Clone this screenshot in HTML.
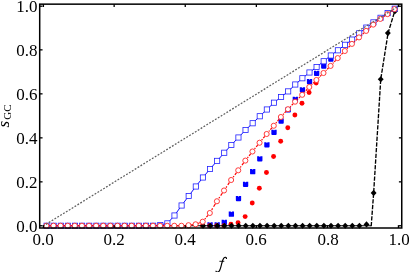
<!DOCTYPE html>
<html><head><meta charset="utf-8"><title>s_GC vs f</title>
<style>
html,body{margin:0;padding:0;background:#fff;}
div{will-change:transform;}
body{width:409px;height:272px;overflow:hidden;position:relative;font-family:"Liberation Serif",serif;color:#000;}
svg{position:absolute;left:0;top:0;}
.xl{position:absolute;top:230.3px;width:40px;text-align:center;font-size:17px;line-height:20px;white-space:nowrap;}
.yl{position:absolute;left:0;width:37.6px;text-align:right;font-size:17px;line-height:20px;white-space:nowrap;}
.sl{position:absolute;left:-36.1px;top:105.6px;width:80px;height:20px;text-align:center;font-size:17px;line-height:20px;transform:rotate(-90deg);transform-origin:50% 50%;white-space:nowrap;}
.sl i{font-style:italic;}
.sl span{font-size:11px;position:relative;top:2.3px;margin-left:1.3px;}
</style></head><body>
<svg width="409" height="272" viewBox="0 0 409 272">
<path d="M207.42,222.35 L209.37,222.35 L210.07,223.15 L210.77,222.35 L212.72,222.35 L212.72,226.75 Q212.72,227.65 211.82,227.65 L208.32,227.65 Q207.42,227.65 207.42,226.75Z" fill="#0000ff"/>
<path d="M214.52,222.35 L216.47,222.35 L217.17,223.15 L217.87,222.35 L219.82,222.35 L219.82,226.75 Q219.82,227.65 218.92,227.65 L215.42,227.65 Q214.52,227.65 214.52,226.75Z" fill="#0000ff"/>
<path d="M221.62,219.65 L223.58,219.65 L224.28,220.45 L224.97,219.65 L226.93,219.65 L226.93,224.05 Q226.93,224.95 226.03,224.95 L222.53,224.95 Q221.62,224.95 221.62,224.05Z" fill="#0000ff"/>
<path d="M228.73,211.55 L230.68,211.55 L231.38,212.35 L232.08,211.55 L234.03,211.55 L234.03,215.95 Q234.03,216.85 233.13,216.85 L229.63,216.85 Q228.73,216.85 228.73,215.95Z" fill="#0000ff"/>
<path d="M235.84,195.90 L237.79,195.90 L238.49,196.70 L239.19,195.90 L241.14,195.90 L241.14,200.30 Q241.14,201.20 240.24,201.20 L236.74,201.20 Q235.84,201.20 235.84,200.30Z" fill="#0000ff"/>
<path d="M242.94,181.65 L244.89,181.65 L245.59,182.45 L246.29,181.65 L248.24,181.65 L248.24,186.05 Q248.24,186.95 247.34,186.95 L243.84,186.95 Q242.94,186.95 242.94,186.05Z" fill="#0000ff"/>
<path d="M250.05,169.05 L252.00,169.05 L252.70,169.85 L253.40,169.05 L255.35,169.05 L255.35,173.45 Q255.35,174.35 254.45,174.35 L250.95,174.35 Q250.05,174.35 250.05,173.45Z" fill="#0000ff"/>
<path d="M257.15,156.15 L259.10,156.15 L259.80,156.95 L260.50,156.15 L262.45,156.15 L262.45,160.55 Q262.45,161.45 261.55,161.45 L258.05,161.45 Q257.15,161.45 257.15,160.55Z" fill="#0000ff"/>
<path d="M264.26,142.15 L266.21,142.15 L266.91,142.95 L267.61,142.15 L269.56,142.15 L269.56,146.55 Q269.56,147.45 268.66,147.45 L265.16,147.45 Q264.26,147.45 264.26,146.55Z" fill="#0000ff"/>
<path d="M271.36,129.65 L273.31,129.65 L274.01,130.45 L274.71,129.65 L276.66,129.65 L276.66,134.05 Q276.66,134.95 275.76,134.95 L272.26,134.95 Q271.36,134.95 271.36,134.05Z" fill="#0000ff"/>
<path d="M278.47,118.40 L280.42,118.40 L281.12,119.20 L281.81,118.40 L283.76,118.40 L283.76,122.80 Q283.76,123.70 282.87,123.70 L279.37,123.70 Q278.47,123.70 278.47,122.80Z" fill="#0000ff"/>
<path d="M285.57,107.15 L287.52,107.15 L288.22,107.95 L288.92,107.15 L290.87,107.15 L290.87,111.55 Q290.87,112.45 289.97,112.45 L286.47,112.45 Q285.57,112.45 285.57,111.55Z" fill="#0000ff"/>
<path d="M292.68,96.65 L294.62,96.65 L295.32,97.45 L296.02,96.65 L297.97,96.65 L297.97,101.05 Q297.97,101.95 297.07,101.95 L293.57,101.95 Q292.68,101.95 292.68,101.05Z" fill="#0000ff"/>
<path d="M299.78,87.15 L301.73,87.15 L302.43,87.95 L303.13,87.15 L305.08,87.15 L305.08,91.55 Q305.08,92.45 304.18,92.45 L300.68,92.45 Q299.78,92.45 299.78,91.55Z" fill="#0000ff"/>
<path d="M306.88,78.90 L308.83,78.90 L309.53,79.70 L310.23,78.90 L312.18,78.90 L312.18,83.30 Q312.18,84.20 311.28,84.20 L307.78,84.20 Q306.88,84.20 306.88,83.30Z" fill="#0000ff"/>
<path d="M313.99,70.65 L315.94,70.65 L316.64,71.45 L317.34,70.65 L319.29,70.65 L319.29,75.05 Q319.29,75.95 318.39,75.95 L314.89,75.95 Q313.99,75.95 313.99,75.05Z" fill="#0000ff"/>
<path d="M321.10,63.40 L323.05,63.40 L323.75,64.20 L324.44,63.40 L326.39,63.40 L326.39,67.80 Q326.39,68.70 325.50,68.70 L322.00,68.70 Q321.10,68.70 321.10,67.80Z" fill="#0000ff"/>
<path d="M328.20,56.40 L330.15,56.40 L330.85,57.20 L331.55,56.40 L333.50,56.40 L333.50,60.80 Q333.50,61.70 332.60,61.70 L329.10,61.70 Q328.20,61.70 328.20,60.80Z" fill="#0000ff"/>
<circle cx="202.51" cy="225.75" r="2.45" fill="#ff0000"/>
<circle cx="209.62" cy="225.75" r="2.45" fill="#ff0000"/>
<circle cx="216.72" cy="225.75" r="2.45" fill="#ff0000"/>
<circle cx="223.83" cy="225.75" r="2.45" fill="#ff0000"/>
<circle cx="230.93" cy="224.30" r="2.45" fill="#ff0000"/>
<circle cx="238.04" cy="222.70" r="2.45" fill="#ff0000"/>
<circle cx="245.14" cy="216.60" r="2.45" fill="#ff0000"/>
<circle cx="252.25" cy="203.00" r="2.45" fill="#ff0000"/>
<circle cx="259.35" cy="188.25" r="2.45" fill="#ff0000"/>
<circle cx="266.46" cy="172.50" r="2.45" fill="#ff0000"/>
<circle cx="273.56" cy="156.50" r="2.45" fill="#ff0000"/>
<circle cx="280.67" cy="141.25" r="2.45" fill="#ff0000"/>
<circle cx="287.77" cy="127.75" r="2.45" fill="#ff0000"/>
<circle cx="294.88" cy="115.00" r="2.45" fill="#ff0000"/>
<circle cx="301.98" cy="103.25" r="2.45" fill="#ff0000"/>
<circle cx="309.08" cy="92.50" r="2.45" fill="#ff0000"/>
<circle cx="316.19" cy="83.00" r="2.45" fill="#ff0000"/>
<line x1="46.40" y1="225.75" x2="371.0" y2="225.75" stroke="#000" stroke-width="1.0"/>
<polyline points="371.20,226.25 373.65,192.90 380.75,79.20 388.05,33.10 394.80,11.00 398.50,5.85" fill="none" stroke="#000" stroke-width="1.35" stroke-dasharray="4.3 1.4"/>
<path d="M200.16,225.75 L203.11,222.70 L206.06,225.75 L203.11,228.80Z" fill="#000"/>
<path d="M207.27,225.75 L210.22,222.70 L213.17,225.75 L210.22,228.80Z" fill="#000"/>
<path d="M214.37,225.75 L217.32,222.70 L220.27,225.75 L217.32,228.80Z" fill="#000"/>
<path d="M221.48,225.75 L224.43,222.70 L227.38,225.75 L224.43,228.80Z" fill="#000"/>
<path d="M228.58,225.75 L231.53,222.70 L234.48,225.75 L231.53,228.80Z" fill="#000"/>
<path d="M235.69,225.75 L238.64,222.70 L241.59,225.75 L238.64,228.80Z" fill="#000"/>
<path d="M242.79,225.75 L245.74,222.70 L248.69,225.75 L245.74,228.80Z" fill="#000"/>
<path d="M249.90,225.75 L252.85,222.70 L255.80,225.75 L252.85,228.80Z" fill="#000"/>
<path d="M257.00,225.75 L259.95,222.70 L262.90,225.75 L259.95,228.80Z" fill="#000"/>
<path d="M264.11,225.75 L267.06,222.70 L270.00,225.75 L267.06,228.80Z" fill="#000"/>
<path d="M271.21,225.75 L274.16,222.70 L277.11,225.75 L274.16,228.80Z" fill="#000"/>
<path d="M278.31,225.75 L281.26,222.70 L284.21,225.75 L281.26,228.80Z" fill="#000"/>
<path d="M285.42,225.75 L288.37,222.70 L291.32,225.75 L288.37,228.80Z" fill="#000"/>
<path d="M292.52,225.75 L295.47,222.70 L298.42,225.75 L295.47,228.80Z" fill="#000"/>
<path d="M299.63,225.75 L302.58,222.70 L305.53,225.75 L302.58,228.80Z" fill="#000"/>
<path d="M306.73,225.75 L309.68,222.70 L312.63,225.75 L309.68,228.80Z" fill="#000"/>
<path d="M313.84,225.75 L316.79,222.70 L319.74,225.75 L316.79,228.80Z" fill="#000"/>
<path d="M320.94,225.75 L323.89,222.70 L326.84,225.75 L323.89,228.80Z" fill="#000"/>
<path d="M328.05,225.75 L331.00,222.70 L333.95,225.75 L331.00,228.80Z" fill="#000"/>
<path d="M335.15,225.75 L338.10,222.70 L341.05,225.75 L338.10,228.80Z" fill="#000"/>
<path d="M342.26,225.75 L345.21,222.70 L348.16,225.75 L345.21,228.80Z" fill="#000"/>
<path d="M349.37,225.75 L352.31,222.70 L355.26,225.75 L352.31,228.80Z" fill="#000"/>
<path d="M356.47,225.75 L359.42,222.70 L362.37,225.75 L359.42,228.80Z" fill="#000"/>
<path d="M363.57,224.40 L366.52,221.35 L369.47,224.40 L366.52,227.45Z" fill="#000"/>
<path d="M370.68,192.90 L373.63,189.85 L376.58,192.90 L373.63,195.95Z" fill="#000"/>
<path d="M377.78,79.20 L380.73,76.15 L383.68,79.20 L380.73,82.25Z" fill="#000"/>
<path d="M384.89,33.10 L387.84,30.05 L390.79,33.10 L387.84,36.15Z" fill="#000"/>
<path d="M392.00,11.30 L394.94,8.25 L397.89,11.30 L394.94,14.35Z" fill="#000"/>
<polyline points="46.60,225.75 53.70,225.75 60.81,225.75 67.92,225.75 75.02,225.75 82.13,225.75 89.23,225.75 96.33,225.75 103.44,225.75 110.55,225.75 117.65,225.75 124.76,225.75 131.86,225.75 138.97,225.75 146.07,225.75 153.17,225.75 160.28,225.00 167.38,223.40 174.49,215.50 181.59,205.50 188.70,196.00 195.81,186.50 202.91,177.50 210.02,169.00 217.12,160.90 224.22,152.75 231.33,145.00 238.44,137.50 245.54,130.00 252.65,123.25 259.75,116.25 266.86,109.50 273.96,102.70 281.06,97.00 288.17,91.40 295.27,84.50 302.38,78.25 309.48,72.50 316.59,67.00 323.69,61.25 330.80,55.50 337.90,50.30 345.01,44.80 352.12,39.60 359.22,33.30 366.32,27.60 373.43,22.40 380.53,17.80 387.64,13.10 394.75,8.70" fill="none" stroke="#0000ff" stroke-width="0.95"/>
<rect x="44.00" y="223.15" width="5.2" height="5.2" fill="#fff" stroke="#1c1cff" stroke-width="0.78"/>
<rect x="51.10" y="223.15" width="5.2" height="5.2" fill="#fff" stroke="#1c1cff" stroke-width="0.78"/>
<rect x="58.21" y="223.15" width="5.2" height="5.2" fill="#fff" stroke="#1c1cff" stroke-width="0.78"/>
<rect x="65.32" y="223.15" width="5.2" height="5.2" fill="#fff" stroke="#1c1cff" stroke-width="0.78"/>
<rect x="72.42" y="223.15" width="5.2" height="5.2" fill="#fff" stroke="#1c1cff" stroke-width="0.78"/>
<rect x="79.53" y="223.15" width="5.2" height="5.2" fill="#fff" stroke="#1c1cff" stroke-width="0.78"/>
<rect x="86.63" y="223.15" width="5.2" height="5.2" fill="#fff" stroke="#1c1cff" stroke-width="0.78"/>
<rect x="93.73" y="223.15" width="5.2" height="5.2" fill="#fff" stroke="#1c1cff" stroke-width="0.78"/>
<rect x="100.84" y="223.15" width="5.2" height="5.2" fill="#fff" stroke="#1c1cff" stroke-width="0.78"/>
<rect x="107.95" y="223.15" width="5.2" height="5.2" fill="#fff" stroke="#1c1cff" stroke-width="0.78"/>
<rect x="115.05" y="223.15" width="5.2" height="5.2" fill="#fff" stroke="#1c1cff" stroke-width="0.78"/>
<rect x="122.16" y="223.15" width="5.2" height="5.2" fill="#fff" stroke="#1c1cff" stroke-width="0.78"/>
<rect x="129.26" y="223.15" width="5.2" height="5.2" fill="#fff" stroke="#1c1cff" stroke-width="0.78"/>
<rect x="136.37" y="223.15" width="5.2" height="5.2" fill="#fff" stroke="#1c1cff" stroke-width="0.78"/>
<rect x="143.47" y="223.15" width="5.2" height="5.2" fill="#fff" stroke="#1c1cff" stroke-width="0.78"/>
<rect x="150.57" y="223.15" width="5.2" height="5.2" fill="#fff" stroke="#1c1cff" stroke-width="0.78"/>
<rect x="157.68" y="222.40" width="5.2" height="5.2" fill="#fff" stroke="#1c1cff" stroke-width="0.78"/>
<rect x="164.78" y="220.80" width="5.2" height="5.2" fill="#fff" stroke="#1c1cff" stroke-width="0.78"/>
<rect x="171.89" y="212.90" width="5.2" height="5.2" fill="#fff" stroke="#1c1cff" stroke-width="0.78"/>
<rect x="179.00" y="202.90" width="5.2" height="5.2" fill="#fff" stroke="#1c1cff" stroke-width="0.78"/>
<rect x="186.10" y="193.40" width="5.2" height="5.2" fill="#fff" stroke="#1c1cff" stroke-width="0.78"/>
<rect x="193.21" y="183.90" width="5.2" height="5.2" fill="#fff" stroke="#1c1cff" stroke-width="0.78"/>
<rect x="200.31" y="174.90" width="5.2" height="5.2" fill="#fff" stroke="#1c1cff" stroke-width="0.78"/>
<rect x="207.42" y="166.40" width="5.2" height="5.2" fill="#fff" stroke="#1c1cff" stroke-width="0.78"/>
<rect x="214.52" y="158.30" width="5.2" height="5.2" fill="#fff" stroke="#1c1cff" stroke-width="0.78"/>
<rect x="221.62" y="150.15" width="5.2" height="5.2" fill="#fff" stroke="#1c1cff" stroke-width="0.78"/>
<rect x="228.73" y="142.40" width="5.2" height="5.2" fill="#fff" stroke="#1c1cff" stroke-width="0.78"/>
<rect x="235.84" y="134.90" width="5.2" height="5.2" fill="#fff" stroke="#1c1cff" stroke-width="0.78"/>
<rect x="242.94" y="127.40" width="5.2" height="5.2" fill="#fff" stroke="#1c1cff" stroke-width="0.78"/>
<rect x="250.05" y="120.65" width="5.2" height="5.2" fill="#fff" stroke="#1c1cff" stroke-width="0.78"/>
<rect x="257.15" y="113.65" width="5.2" height="5.2" fill="#fff" stroke="#1c1cff" stroke-width="0.78"/>
<rect x="264.25" y="106.90" width="5.2" height="5.2" fill="#fff" stroke="#1c1cff" stroke-width="0.78"/>
<rect x="271.36" y="100.10" width="5.2" height="5.2" fill="#fff" stroke="#1c1cff" stroke-width="0.78"/>
<rect x="278.46" y="94.40" width="5.2" height="5.2" fill="#fff" stroke="#1c1cff" stroke-width="0.78"/>
<rect x="285.57" y="88.80" width="5.2" height="5.2" fill="#fff" stroke="#1c1cff" stroke-width="0.78"/>
<rect x="292.67" y="81.90" width="5.2" height="5.2" fill="#fff" stroke="#1c1cff" stroke-width="0.78"/>
<rect x="299.78" y="75.65" width="5.2" height="5.2" fill="#fff" stroke="#1c1cff" stroke-width="0.78"/>
<rect x="306.88" y="69.90" width="5.2" height="5.2" fill="#fff" stroke="#1c1cff" stroke-width="0.78"/>
<rect x="313.99" y="64.40" width="5.2" height="5.2" fill="#fff" stroke="#1c1cff" stroke-width="0.78"/>
<rect x="321.09" y="58.65" width="5.2" height="5.2" fill="#fff" stroke="#1c1cff" stroke-width="0.78"/>
<rect x="328.20" y="52.90" width="5.2" height="5.2" fill="#fff" stroke="#1c1cff" stroke-width="0.78"/>
<rect x="335.30" y="47.70" width="5.2" height="5.2" fill="#fff" stroke="#1c1cff" stroke-width="0.78"/>
<rect x="342.41" y="42.20" width="5.2" height="5.2" fill="#fff" stroke="#1c1cff" stroke-width="0.78"/>
<rect x="349.51" y="37.00" width="5.2" height="5.2" fill="#fff" stroke="#1c1cff" stroke-width="0.78"/>
<rect x="356.62" y="30.70" width="5.2" height="5.2" fill="#fff" stroke="#1c1cff" stroke-width="0.78"/>
<rect x="363.72" y="25.00" width="5.2" height="5.2" fill="#fff" stroke="#1c1cff" stroke-width="0.78"/>
<rect x="370.83" y="19.80" width="5.2" height="5.2" fill="#fff" stroke="#1c1cff" stroke-width="0.78"/>
<rect x="377.93" y="15.20" width="5.2" height="5.2" fill="#fff" stroke="#1c1cff" stroke-width="0.78"/>
<rect x="385.04" y="10.50" width="5.2" height="5.2" fill="#fff" stroke="#1c1cff" stroke-width="0.78"/>
<rect x="392.14" y="6.10" width="5.2" height="5.2" fill="#fff" stroke="#1c1cff" stroke-width="0.78"/>
<line x1="46.40" y1="225.75" x2="53.50" y2="225.75" stroke="#ff0000" stroke-width="1.0"/>
<line x1="53.50" y1="225.75" x2="60.61" y2="225.75" stroke="#ff0000" stroke-width="1.0"/>
<line x1="60.61" y1="225.75" x2="67.72" y2="225.75" stroke="#ff0000" stroke-width="1.0"/>
<line x1="67.72" y1="225.75" x2="74.82" y2="225.75" stroke="#ff0000" stroke-width="1.0"/>
<line x1="74.82" y1="225.75" x2="81.93" y2="225.75" stroke="#ff0000" stroke-width="1.0"/>
<line x1="81.93" y1="225.75" x2="89.03" y2="225.75" stroke="#ff0000" stroke-width="1.0"/>
<line x1="89.03" y1="225.75" x2="96.13" y2="225.75" stroke="#ff0000" stroke-width="1.0"/>
<line x1="96.13" y1="225.75" x2="103.24" y2="225.75" stroke="#ff0000" stroke-width="1.0"/>
<line x1="103.24" y1="225.75" x2="110.34" y2="225.75" stroke="#ff0000" stroke-width="1.0"/>
<line x1="110.34" y1="225.75" x2="117.45" y2="225.75" stroke="#ff0000" stroke-width="1.0"/>
<line x1="117.45" y1="225.75" x2="124.56" y2="225.75" stroke="#ff0000" stroke-width="1.0"/>
<line x1="124.56" y1="225.75" x2="131.66" y2="225.75" stroke="#ff0000" stroke-width="1.0"/>
<line x1="131.66" y1="225.75" x2="138.77" y2="225.75" stroke="#ff0000" stroke-width="1.0"/>
<line x1="138.77" y1="225.75" x2="145.87" y2="225.75" stroke="#ff0000" stroke-width="1.0"/>
<line x1="145.87" y1="225.75" x2="152.97" y2="225.75" stroke="#ff0000" stroke-width="1.0"/>
<line x1="152.97" y1="225.75" x2="160.08" y2="225.75" stroke="#ff0000" stroke-width="1.0"/>
<line x1="160.08" y1="225.75" x2="167.19" y2="225.75" stroke="#ff0000" stroke-width="1.0"/>
<line x1="167.19" y1="225.75" x2="174.29" y2="225.75" stroke="#ff0000" stroke-width="1.0"/>
<line x1="174.29" y1="225.75" x2="181.40" y2="225.75" stroke="#ff0000" stroke-width="1.0"/>
<line x1="181.40" y1="225.75" x2="188.50" y2="225.20" stroke="#ff0000" stroke-width="1.0"/>
<line x1="188.50" y1="225.20" x2="195.61" y2="224.30" stroke="#ff0000" stroke-width="1.0"/>
<line x1="195.61" y1="224.30" x2="202.71" y2="221.70" stroke="#ff0000" stroke-width="1.0"/>
<line x1="202.71" y1="221.70" x2="209.82" y2="213.00" stroke="#ff0000" stroke-width="1.2" stroke-dasharray="0 3.41 1.20 1.29 2.39 50"/>
<line x1="209.82" y1="213.00" x2="216.92" y2="201.25" stroke="#ff0000" stroke-width="1.2" stroke-dasharray="0 3.63 1.76 1.89 3.51 50"/>
<line x1="216.92" y1="201.25" x2="224.03" y2="190.50" stroke="#ff0000" stroke-width="1.2" stroke-dasharray="0 3.55 1.57 1.69 3.13 50"/>
<line x1="224.03" y1="190.50" x2="231.13" y2="180.00" stroke="#ff0000" stroke-width="1.2" stroke-dasharray="0 3.53 1.52 1.64 3.04 50"/>
<line x1="231.13" y1="180.00" x2="238.24" y2="170.30" stroke="#ff0000" stroke-width="1.2" stroke-dasharray="0 3.48 1.37 1.48 2.75 50"/>
<line x1="238.24" y1="170.30" x2="245.34" y2="160.60" stroke="#ff0000" stroke-width="1.2" stroke-dasharray="0 3.48 1.37 1.48 2.75 50"/>
<line x1="245.34" y1="160.60" x2="252.45" y2="151.50" stroke="#ff0000" stroke-width="1.2" stroke-dasharray="0 3.44 1.27 1.36 2.53 50"/>
<line x1="252.45" y1="151.50" x2="259.55" y2="142.75" stroke="#ff0000" stroke-width="1.2" stroke-dasharray="0 3.41 1.20 1.30 2.41 50"/>
<line x1="259.55" y1="142.75" x2="266.66" y2="134.00" stroke="#ff0000" stroke-width="1.2" stroke-dasharray="0 3.41 1.20 1.30 2.41 50"/>
<line x1="266.66" y1="134.00" x2="273.76" y2="125.75" stroke="#ff0000" stroke-width="1.2" stroke-dasharray="0 3.38 1.12 1.20 2.24 50"/>
<line x1="273.76" y1="125.75" x2="280.87" y2="117.00" stroke="#ff0000" stroke-width="1.2" stroke-dasharray="0 3.41 1.20 1.30 2.41 50"/>
<line x1="280.87" y1="117.00" x2="287.97" y2="109.20" stroke="#ff0000" stroke-width="1.2" stroke-dasharray="0 3.35 1.04 1.12 2.08 50"/>
<line x1="287.97" y1="109.20" x2="295.07" y2="101.70" stroke="#ff0000" stroke-width="1.2" stroke-dasharray="0 3.33 0.99 1.07 1.99 50"/>
<line x1="295.07" y1="101.70" x2="302.18" y2="94.80" stroke="#ff0000" stroke-width="1.2" stroke-dasharray="0 3.30 0.90 0.97 1.79 50"/>
<line x1="302.18" y1="94.80" x2="309.28" y2="87.00" stroke="#ff0000" stroke-width="1.2" stroke-dasharray="0 3.35 1.04 1.12 2.08 50"/>
<line x1="309.28" y1="87.00" x2="316.39" y2="80.00" stroke="#ff0000" stroke-width="1.2" stroke-dasharray="0 3.30 0.91 0.98 1.83 50"/>
<line x1="316.39" y1="80.00" x2="323.50" y2="73.00" stroke="#ff0000" stroke-width="1.2" stroke-dasharray="0 3.30 0.91 0.98 1.83 50"/>
<line x1="323.50" y1="73.00" x2="330.60" y2="65.90" stroke="#ff0000" stroke-width="1.2" stroke-dasharray="0 3.31 0.93 1.00 1.86 50"/>
<line x1="330.60" y1="65.90" x2="337.70" y2="58.10" stroke="#ff0000" stroke-width="1.2" stroke-dasharray="0 3.35 1.04 1.12 2.08 50"/>
<line x1="337.70" y1="58.10" x2="344.81" y2="51.00" stroke="#ff0000" stroke-width="1.2" stroke-dasharray="0 3.31 0.93 1.00 1.86 50"/>
<line x1="344.81" y1="51.00" x2="351.92" y2="43.90" stroke="#ff0000" stroke-width="1.2" stroke-dasharray="0 3.31 0.93 1.00 1.86 50"/>
<line x1="351.92" y1="43.90" x2="359.02" y2="37.40" stroke="#ff0000" stroke-width="1.2" stroke-dasharray="0 3.27 0.84 0.90 1.67 50"/>
<line x1="359.02" y1="37.40" x2="366.12" y2="30.90" stroke="#ff0000" stroke-width="1.2" stroke-dasharray="0 3.27 0.84 0.90 1.67 50"/>
<line x1="366.12" y1="30.90" x2="373.23" y2="24.60" stroke="#ff0000" stroke-width="1.2" stroke-dasharray="0 3.26 0.81 0.87 1.61 50"/>
<line x1="373.23" y1="24.60" x2="380.33" y2="18.90" stroke="#ff0000" stroke-width="1.2" stroke-dasharray="0 3.23 0.72 0.77 1.44 50"/>
<line x1="380.33" y1="18.90" x2="387.44" y2="14.10" stroke="#ff0000" stroke-width="1.2" stroke-dasharray="0 3.18 0.60 0.65 1.20 50"/>
<line x1="387.44" y1="14.10" x2="394.55" y2="9.10" stroke="#ff0000" stroke-width="1.2" stroke-dasharray="0 3.19 0.62 0.67 1.25 50"/>
<circle cx="46.40" cy="225.75" r="2.55" fill="#fff" stroke="#ff1a1a" stroke-width="0.85"/>
<circle cx="53.50" cy="225.75" r="2.55" fill="#fff" stroke="#ff1a1a" stroke-width="0.85"/>
<circle cx="60.61" cy="225.75" r="2.55" fill="#fff" stroke="#ff1a1a" stroke-width="0.85"/>
<circle cx="67.72" cy="225.75" r="2.55" fill="#fff" stroke="#ff1a1a" stroke-width="0.85"/>
<circle cx="74.82" cy="225.75" r="2.55" fill="#fff" stroke="#ff1a1a" stroke-width="0.85"/>
<circle cx="81.93" cy="225.75" r="2.55" fill="#fff" stroke="#ff1a1a" stroke-width="0.85"/>
<circle cx="89.03" cy="225.75" r="2.55" fill="#fff" stroke="#ff1a1a" stroke-width="0.85"/>
<circle cx="96.13" cy="225.75" r="2.55" fill="#fff" stroke="#ff1a1a" stroke-width="0.85"/>
<circle cx="103.24" cy="225.75" r="2.55" fill="#fff" stroke="#ff1a1a" stroke-width="0.85"/>
<circle cx="110.34" cy="225.75" r="2.55" fill="#fff" stroke="#ff1a1a" stroke-width="0.85"/>
<circle cx="117.45" cy="225.75" r="2.55" fill="#fff" stroke="#ff1a1a" stroke-width="0.85"/>
<circle cx="124.56" cy="225.75" r="2.55" fill="#fff" stroke="#ff1a1a" stroke-width="0.85"/>
<circle cx="131.66" cy="225.75" r="2.55" fill="#fff" stroke="#ff1a1a" stroke-width="0.85"/>
<circle cx="138.77" cy="225.75" r="2.55" fill="#fff" stroke="#ff1a1a" stroke-width="0.85"/>
<circle cx="145.87" cy="225.75" r="2.55" fill="#fff" stroke="#ff1a1a" stroke-width="0.85"/>
<circle cx="152.97" cy="225.75" r="2.55" fill="#fff" stroke="#ff1a1a" stroke-width="0.85"/>
<circle cx="160.08" cy="225.75" r="2.55" fill="#fff" stroke="#ff1a1a" stroke-width="0.85"/>
<circle cx="167.19" cy="225.75" r="2.55" fill="#fff" stroke="#ff1a1a" stroke-width="0.85"/>
<circle cx="174.29" cy="225.75" r="2.55" fill="#fff" stroke="#ff1a1a" stroke-width="0.85"/>
<circle cx="181.40" cy="225.75" r="2.55" fill="#fff" stroke="#ff1a1a" stroke-width="0.85"/>
<circle cx="188.50" cy="225.20" r="2.55" fill="#fff" stroke="#ff1a1a" stroke-width="0.85"/>
<circle cx="195.61" cy="224.30" r="2.55" fill="#fff" stroke="#ff1a1a" stroke-width="0.85"/>
<circle cx="202.71" cy="221.70" r="2.55" fill="#fff" stroke="#ff1a1a" stroke-width="0.85"/>
<circle cx="209.82" cy="213.00" r="2.55" fill="#fff" stroke="#ff1a1a" stroke-width="0.85"/>
<circle cx="216.92" cy="201.25" r="2.55" fill="#fff" stroke="#ff1a1a" stroke-width="0.85"/>
<circle cx="224.03" cy="190.50" r="2.55" fill="#fff" stroke="#ff1a1a" stroke-width="0.85"/>
<circle cx="231.13" cy="180.00" r="2.55" fill="#fff" stroke="#ff1a1a" stroke-width="0.85"/>
<circle cx="238.24" cy="170.30" r="2.55" fill="#fff" stroke="#ff1a1a" stroke-width="0.85"/>
<circle cx="245.34" cy="160.60" r="2.55" fill="#fff" stroke="#ff1a1a" stroke-width="0.85"/>
<circle cx="252.45" cy="151.50" r="2.55" fill="#fff" stroke="#ff1a1a" stroke-width="0.85"/>
<circle cx="259.55" cy="142.75" r="2.55" fill="#fff" stroke="#ff1a1a" stroke-width="0.85"/>
<circle cx="266.66" cy="134.00" r="2.55" fill="#fff" stroke="#ff1a1a" stroke-width="0.85"/>
<circle cx="273.76" cy="125.75" r="2.55" fill="#fff" stroke="#ff1a1a" stroke-width="0.85"/>
<circle cx="280.87" cy="117.00" r="2.55" fill="#fff" stroke="#ff1a1a" stroke-width="0.85"/>
<circle cx="287.97" cy="109.20" r="2.55" fill="#fff" stroke="#ff1a1a" stroke-width="0.85"/>
<circle cx="295.07" cy="101.70" r="2.55" fill="#fff" stroke="#ff1a1a" stroke-width="0.85"/>
<circle cx="302.18" cy="94.80" r="2.55" fill="#fff" stroke="#ff1a1a" stroke-width="0.85"/>
<circle cx="309.28" cy="87.00" r="2.55" fill="#fff" stroke="#ff1a1a" stroke-width="0.85"/>
<circle cx="316.39" cy="80.00" r="2.55" fill="#fff" stroke="#ff1a1a" stroke-width="0.85"/>
<circle cx="323.50" cy="73.00" r="2.55" fill="#fff" stroke="#ff1a1a" stroke-width="0.85"/>
<circle cx="330.60" cy="65.90" r="2.55" fill="#fff" stroke="#ff1a1a" stroke-width="0.85"/>
<circle cx="337.70" cy="58.10" r="2.55" fill="#fff" stroke="#ff1a1a" stroke-width="0.85"/>
<circle cx="344.81" cy="51.00" r="2.55" fill="#fff" stroke="#ff1a1a" stroke-width="0.85"/>
<circle cx="351.92" cy="43.90" r="2.55" fill="#fff" stroke="#ff1a1a" stroke-width="0.85"/>
<circle cx="359.02" cy="37.40" r="2.55" fill="#fff" stroke="#ff1a1a" stroke-width="0.85"/>
<circle cx="366.12" cy="30.90" r="2.55" fill="#fff" stroke="#ff1a1a" stroke-width="0.85"/>
<circle cx="373.23" cy="24.60" r="2.55" fill="#fff" stroke="#ff1a1a" stroke-width="0.85"/>
<circle cx="380.33" cy="18.90" r="2.55" fill="#fff" stroke="#ff1a1a" stroke-width="0.85"/>
<circle cx="387.44" cy="14.10" r="2.55" fill="#fff" stroke="#ff1a1a" stroke-width="0.85"/>
<circle cx="394.55" cy="9.10" r="2.55" fill="#fff" stroke="#ff1a1a" stroke-width="0.85"/>
<line x1="43.05" y1="226.15" x2="398.55" y2="6.15" stroke="#5e5e5e" stroke-width="1.25" stroke-dasharray="1.85 1.52"/>
<rect x="39.7" y="4.15" width="362.05" height="223.85" fill="none" stroke="#000" stroke-width="1.5"/>
<line x1="43.40" y1="228.0" x2="43.40" y2="225.15" stroke="#000" stroke-width="1.3"/>
<line x1="43.40" y1="4.15" x2="43.40" y2="7.0" stroke="#000" stroke-width="1.3"/>
<line x1="39.7" y1="225.75" x2="42.550000000000004" y2="225.75" stroke="#000" stroke-width="1.3"/>
<line x1="401.75" y1="225.75" x2="398.9" y2="225.75" stroke="#000" stroke-width="1.3"/>
<line x1="114.15" y1="228.0" x2="114.15" y2="225.15" stroke="#000" stroke-width="1.3"/>
<line x1="114.15" y1="4.15" x2="114.15" y2="7.0" stroke="#000" stroke-width="1.3"/>
<line x1="39.7" y1="181.85" x2="42.550000000000004" y2="181.85" stroke="#000" stroke-width="1.3"/>
<line x1="401.75" y1="181.85" x2="398.9" y2="181.85" stroke="#000" stroke-width="1.3"/>
<line x1="185.25" y1="228.0" x2="185.25" y2="225.15" stroke="#000" stroke-width="1.3"/>
<line x1="185.25" y1="4.15" x2="185.25" y2="7.0" stroke="#000" stroke-width="1.3"/>
<line x1="39.7" y1="137.85" x2="42.550000000000004" y2="137.85" stroke="#000" stroke-width="1.3"/>
<line x1="401.75" y1="137.85" x2="398.9" y2="137.85" stroke="#000" stroke-width="1.3"/>
<line x1="256.35" y1="228.0" x2="256.35" y2="225.15" stroke="#000" stroke-width="1.3"/>
<line x1="256.35" y1="4.15" x2="256.35" y2="7.0" stroke="#000" stroke-width="1.3"/>
<line x1="39.7" y1="93.85" x2="42.550000000000004" y2="93.85" stroke="#000" stroke-width="1.3"/>
<line x1="401.75" y1="93.85" x2="398.9" y2="93.85" stroke="#000" stroke-width="1.3"/>
<line x1="327.45" y1="228.0" x2="327.45" y2="225.15" stroke="#000" stroke-width="1.3"/>
<line x1="327.45" y1="4.15" x2="327.45" y2="7.0" stroke="#000" stroke-width="1.3"/>
<line x1="39.7" y1="49.85" x2="42.550000000000004" y2="49.85" stroke="#000" stroke-width="1.3"/>
<line x1="401.75" y1="49.85" x2="398.9" y2="49.85" stroke="#000" stroke-width="1.3"/>
<line x1="398.45" y1="228.0" x2="398.45" y2="225.15" stroke="#000" stroke-width="1.3"/>
<line x1="398.45" y1="4.15" x2="398.45" y2="7.0" stroke="#000" stroke-width="1.3"/>
<line x1="39.7" y1="6.20" x2="42.550000000000004" y2="6.20" stroke="#000" stroke-width="1.3"/>
<line x1="401.75" y1="6.20" x2="398.9" y2="6.20" stroke="#000" stroke-width="1.3"/>
<path d="M226.5,258.5 C226.4,257.2 224.9,256.9 224.0,257.8 C222.9,258.9 222.3,261 221.6,264 C220.9,267 220.3,269.6 219.2,271.1 C218.3,272.3 216.8,272.5 216.0,271.2" fill="none" stroke="#000" stroke-width="1.15" stroke-linecap="round"/>
<line x1="219.4" y1="261.3" x2="224.3" y2="261.3" stroke="#000" stroke-width="0.9"/>
</svg>
<div class="xl" style="left:23.25px">0.0</div>
<div class="yl" style="top:217.15px">0.0</div>
<div class="xl" style="left:94.15px">0.2</div>
<div class="yl" style="top:173.15px">0.2</div>
<div class="xl" style="left:165.25px">0.4</div>
<div class="yl" style="top:129.15px">0.4</div>
<div class="xl" style="left:236.35px">0.6</div>
<div class="yl" style="top:85.15px">0.6</div>
<div class="xl" style="left:308.15px">0.8</div>
<div class="yl" style="top:41.15px">0.8</div>
<div class="xl" style="left:379.45px">1.0</div>
<div class="yl" style="top:-2.85px">1.0</div>

<div class="sl"><i>s</i><span>GC</span></div>
</body></html>
